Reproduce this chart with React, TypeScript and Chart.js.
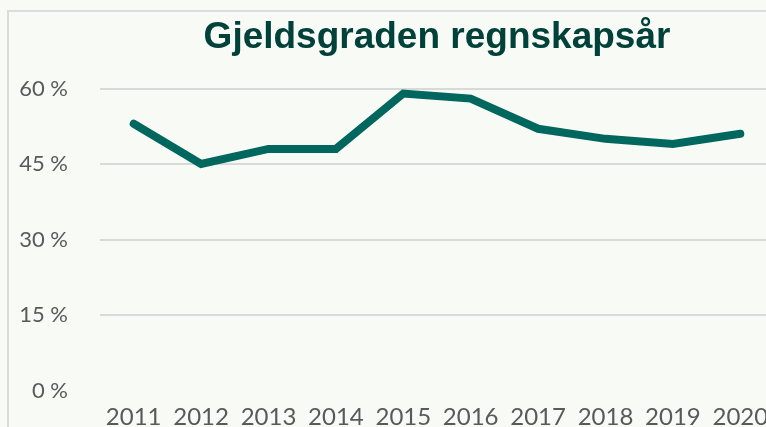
import React, { useEffect, useRef } from "react";
import { Chart, registerables } from "chart.js";

Chart.register(...registerables);

const TITLE = "Gjeldsgraden regnskapsår";
const YEARS = ["2011", "2012", "2013", "2014", "2015", "2016", "2017", "2018", "2019", "2020"];
const DEBT_RATIO = [53, 45, 48, 48, 59, 58, 52, 50, 49, 51];
const Y_MIN = 0;
const Y_MAX = 60;
const Y_STEP = 15;

const CANVAS_W = 800;
const CANVAS_H = 427;

export default function App() {
  const ref = useRef<HTMLCanvasElement | null>(null);

  useEffect(() => {
    if (!ref.current) return;
    document.body.style.margin = "0";
    document.body.style.overflow = "hidden";
    const chart = new Chart(ref.current, {
      type: "line",
      data: {
        labels: YEARS,
        datasets: [
          {
            data: DEBT_RATIO,
            borderColor: "#00675f",
            backgroundColor: "#00675f",
            borderWidth: 8,
            pointRadius: 0,
            pointHoverRadius: 0,
            tension: 0,
            borderCapStyle: "round",
            borderJoinStyle: "miter",
            fill: false,
          },
        ],
      },
      options: {
        responsive: false,
        animation: false,
        devicePixelRatio: 1,
        layout: { padding: { left: 0, right: CANVAS_W - 774, top: 0, bottom: 0 } },
        plugins: {
          legend: { display: false },
          tooltip: { enabled: false },
          title: {
            display: true,
            text: TITLE,
            fullSize: false,
            color: "#00413a",
            font: { family: "'Liberation Sans', Arial, sans-serif", size: 37, weight: "bold", lineHeight: 1.2 },
            padding: { top: 16, bottom: 28.1 },
          },
        },
        scales: {
          x: {
            offset: true,
            grid: { display: false, drawTicks: false },
            border: { display: false },
            ticks: {
              color: "#595959",
              font: { family: "Lato, 'Open Sans', sans-serif", size: 24 },
              padding: 12,
              maxRotation: 0,
              autoSkip: false,
            },
            afterFit: (scale: any) => {
              scale.height = CANVAS_H - 390.5;
            },
          },
          y: {
            min: Y_MIN,
            max: Y_MAX,
            grid: {
              drawTicks: false,
              lineWidth: 2,
              color: (ctx: any) => (ctx.tick && ctx.tick.value === 0 ? "rgba(0,0,0,0)" : "#d9d9d9"),
            },
            border: { display: false },
            ticks: {
              stepSize: Y_STEP,
              color: "#595959",
              font: { family: "Lato, 'Open Sans', sans-serif", size: 22 },
              padding: 32,
              callback: (v: any) => `${v} %`,
            },
            afterFit: (scale: any) => {
              scale.width = 100;
              scale.paddingTop = 0;
              scale.paddingBottom = 0;
            },
          },
        },
      },
    });
    return () => chart.destroy();
  }, []);

  return (
    <div
      style={{
        position: "fixed",
        left: 0,
        top: 0,
        width: 766,
        height: 427,
        overflow: "hidden",
        background: "#f8faf6",
      }}
    >
      <div
        style={{
          position: "absolute",
          left: 7,
          top: 10,
          width: 900,
          height: 600,
          border: "2px solid #dcdcdc",
          boxSizing: "border-box",
        }}
      />
      <canvas
        ref={ref}
        width={CANVAS_W}
        height={CANVAS_H}
        style={{ position: "absolute", left: 0, top: 0, width: CANVAS_W, height: CANVAS_H }}
      />
    </div>
  );
}
